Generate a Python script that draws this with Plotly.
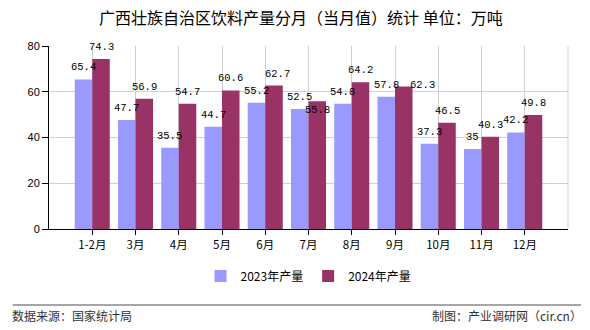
import plotly.graph_objects as go

categories = ["1-2月", "3月", "4月", "5月", "6月", "7月", "8月", "9月", "10月", "11月", "12月"]
values_2023 = [65.4, 47.7, 35.5, 44.7, 55.2, 52.5, 54.8, 57.8, 37.3, 35, 42.2]
values_2024 = [74.3, 56.9, 54.7, 60.6, 62.7, 55.8, 64.2, 62.3, 46.5, 40.3, 49.8]
series_names = ["2023年产量", "2024年产量"]
colors = ["#9999FF", "#993366"]

# label nudges (pixels) for labels the original moved to avoid collisions: (series, index) -> (dx, dy)
label_nudges = {(1, 5): (0, -21), (1, 7): (19, -11), (1, 4): (3, 0)}

label_font = dict(family="Liberation Mono, DejaVu Sans Mono", size=10.5, color="#000000")
cjk = "Noto Sans CJK SC"

bargap = 0.19
bar_w = (1 - bargap) / 2

fig = go.Figure()
annotations = []
for s, (name, vals, col) in enumerate(zip(series_names, [values_2023, values_2024], colors)):
    fig.add_trace(go.Bar(
        x=categories, y=vals, name=name, marker=dict(color=col, line=dict(width=0)),
    ))
    offset = (s - 0.5) * bar_w
    for i, v in enumerate(vals):
        dx, dy = label_nudges.get((s, i), (0, 0))
        annotations.append(dict(
            x=i + offset, y=v, xref="x", yref="y", text=f"{v:g}", showarrow=False,
            xanchor="center", yanchor="middle", xshift=dx, yshift=12 + dy,
            font=label_font,
        ))

annotations += [
    dict(text="数据来源：国家统计局", xref="paper", yref="paper", x=-0.075, y=-0.475,
         xanchor="left", yanchor="middle", showarrow=False,
         font=dict(family=cjk, size=12, color="#333333")),
    dict(text="制图：产业调研网（cir.cn）", xref="paper", yref="paper", x=1.03, y=-0.475,
         xanchor="right", yanchor="middle", showarrow=False,
         font=dict(family=cjk, size=12, color="#333333")),
]

fig.update_layout(
    width=590, height=330,
    margin=dict(l=49, r=22, t=46, b=101),
    paper_bgcolor="white", plot_bgcolor="white",
    barmode="group", bargap=bargap, bargroupgap=0,
    title=dict(text="广西壮族自治区饮料产量分月（当月值）统计 单位：万吨",
               x=0.51, xanchor="center", y=0.945, yanchor="middle",
               font=dict(family=cjk, size=16, color="#000000")),
    showlegend=True,
    legend=dict(orientation="h", x=0.5, xanchor="center", y=-0.257, yanchor="middle",
                font=dict(family=cjk, size=12, color="#000000"),
                itemwidth=30, traceorder="normal"),
    xaxis=dict(range=[-1, 11], type="category", showline=True, linecolor="#000000", linewidth=1,
               ticks="outside", ticklen=5, tickcolor="#000000",
               showgrid=True, gridcolor="#d0d0d0", gridwidth=1,
               tickfont=dict(family=cjk, size=11.5, color="#000000")),
    yaxis=dict(range=[0, 80], dtick=20, showline=True, linecolor="#000000", linewidth=1,
               ticks="outside", ticklen=6, tickcolor="#000000",
               showgrid=True, gridcolor="#d0d0d0", gridwidth=1, zeroline=False,
               tickfont=dict(family="Liberation Sans, Arial", size=11, color="#000000")),
    shapes=[
        dict(type="line", xref="paper", yref="paper", x0=1, x1=1, y0=0, y1=1,
             line=dict(color="#d0d0d0", width=1)),
        dict(type="line", xref="paper", yref="paper", x0=-0.07, x1=1.025, y0=-0.415, y1=-0.415,
             line=dict(color="#888888", width=1.5)),
    ],
    annotations=annotations,
)

fig.write_html("out.html")
